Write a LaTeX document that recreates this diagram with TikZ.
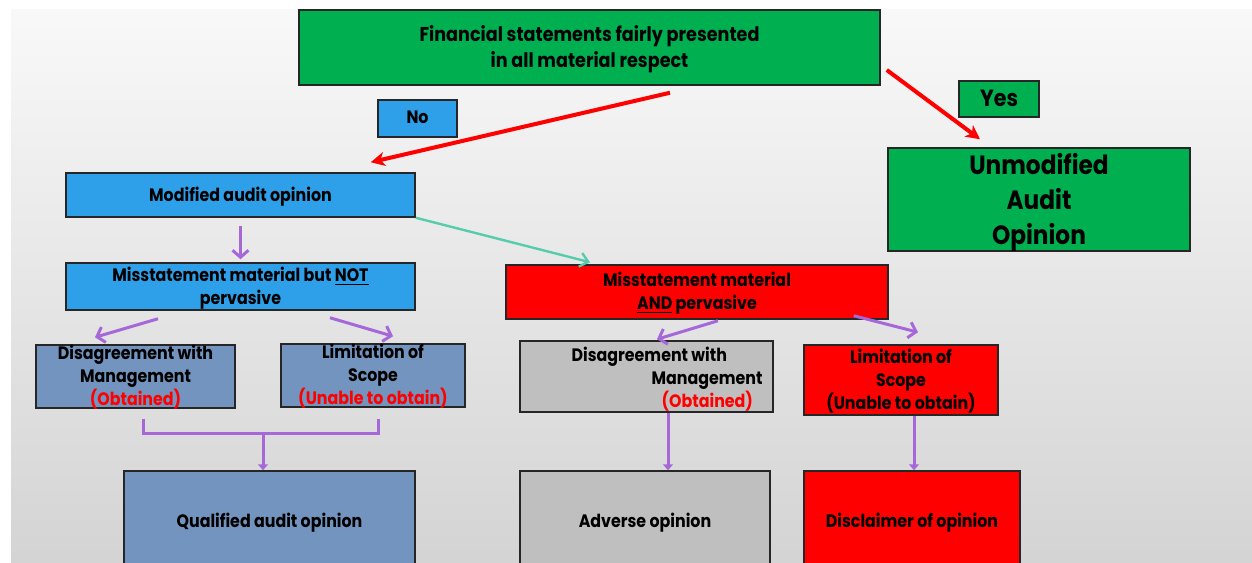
\documentclass[tikz,border=0pt]{standalone}
\usepackage{fontspec}
\setmainfont{Poppins}[FakeStretch=0.88]
\usepackage{tikz}
\usetikzlibrary{arrows.meta}
\definecolor{boxgreen}{RGB}{0,176,80}
\definecolor{boxblue}{RGB}{46,160,234}
\definecolor{boxsteel}{RGB}{114,148,190}
\definecolor{boxgray}{RGB}{191,191,191}
\definecolor{linepurple}{RGB}{166,104,216}
\definecolor{lineteal}{RGB}{86,204,172}

\begin{document}
\begin{tikzpicture}[x=0.5pt,y=-0.5pt,
  box/.style={rectangle,draw=black!85,line width=0.75pt,align=center,inner sep=0pt,text depth=0.1em,font=\bfseries\fontsize{9}{11.5}\selectfont},
  plain/.style={inner sep=0pt,align=left,font=\bfseries\fontsize{9}{11.5}\selectfont},
  redarrow/.style={draw=red,line width=2pt,-{Stealth[length=7pt,width=7pt,inset=2pt]}},
  tealarrow/.style={draw=lineteal,line width=1.2pt,-{Straight Barb[length=4pt,width=7pt]}},
  purplearrow/.style={draw=linepurple,line width=1.5pt,-{Straight Barb[length=3.5pt,width=8pt]}},
  purpledown/.style={draw=linepurple,line width=1.5pt,-{Triangle[length=3pt,width=5pt]}},
  purpleline/.style={draw=linepurple,line width=1.5pt}]
			\useasboundingbox (0,0) rectangle (1252,562);
			\clip (0,0) rectangle (1252,562);
			% slide background
			\fill[white] (0,0) rectangle (1252,562);
			\shade[top color=gray!5, bottom color=gray!34] (11,9) rectangle (1252,562);
			
			\node[box,fill=boxgreen,minimum width=290.5pt,minimum height=37.5pt,font=\bfseries\fontsize{10}{13}\selectfont] (fair) at (589.5,47.5) {Financial statements fairly presented\\in all material respect};
			\node[box,fill=boxblue,minimum width=39.5pt,minimum height=18.5pt] (no) at (417.5,118.5) {No};
			\node[box,fill=boxgreen,minimum width=40pt,minimum height=18pt,font=\bfseries\fontsize{11.7}{13}\selectfont] (yes) at (999,99) {Yes};
			\node[box,fill=boxgreen,minimum width=151pt,minimum height=51.5pt,font=\bfseries\fontsize{13.2}{17.5}\selectfont] (unmod) at (1039,199.5) {Unmodified\\Audit\\Opinion};
			\node[box,fill=boxblue,minimum width=174.5pt,minimum height=22pt] (modif) at (240.5,195) {Modified audit opinion};
			\node[box,fill=boxblue,minimum width=174.5pt,minimum height=23.5pt] (notperv) at (240.5,286.5) {Misstatement material but \underline{NOT}\\pervasive};
			\node[box,fill=red,minimum width=191pt,minimum height=27pt] (andperv) at (697,292) {Misstatement material\\\underline{AND} pervasive};
			\node[box,fill=boxsteel,minimum width=99.5pt,minimum height=31.5pt] (ldis) at (135.5,376.5) {Disagreement with\\Management\\\textcolor{red}{(Obtained)}};
			\node[box,fill=boxsteel,minimum width=92pt,minimum height=31.5pt] (llim) at (373,375.5) {Limitation of\\Scope\\\textcolor{red}{(Unable to obtain)}};
			\node[box,fill=boxgray,minimum width=126.5pt,minimum height=35.5pt] (gdis) at (646.5,376.5) {};
			\node[plain,anchor=west] (gdistext) at ([xshift=26pt,yshift=-1.5pt]gdis.west) {Disagreement with\\\hspace*{40pt}Management\\\hspace*{45pt}\textcolor{red}{(Obtained)}};
			\node[box,fill=red,minimum width=97pt,minimum height=35pt] (rlim) at (901,380) {Limitation of\\Scope\\(Unable to obtain)};
			\node[box,fill=boxsteel,minimum width=145.5pt,minimum height=50pt] (qual) at (269.5,521) {Qualified audit opinion};
			\node[box,fill=boxgray,minimum width=125pt,minimum height=50pt] (adv) at (645,521) {Adverse opinion};
			\node[box,fill=red,minimum width=108pt,minimum height=50pt] (disc) at (912,521) {Disclaimer of opinion};
			
			\draw[redarrow] ([xshift=40.25pt,yshift=-3.5pt]fair.south) -- ([xshift=-22.5pt,yshift=5pt]modif.north east);
			\draw[redarrow] ([xshift=3pt,yshift=-11.25pt]fair.east) -- ([xshift=-29.5pt,yshift=4pt]unmod.north);
			\draw[tealarrow] (modif.south east) -- ([xshift=-53.5pt,yshift=1pt]andperv.north);
			\draw[purplearrow] ([yshift=-4pt]modif.south) -- ([yshift=1.5pt]notperv.north);
			\draw[purplearrow] ([xshift=-41.25pt,yshift=-4pt]notperv.south) -- ([xshift=-20.25pt,yshift=3.5pt]ldis.north);
			\draw[purplearrow] ([xshift=44.75pt,yshift=-3.5pt]notperv.south) -- ([xshift=10pt,yshift=3.5pt]llim.north);
			\draw[purplearrow] ([xshift=10.5pt,yshift=-0.5pt]andperv.south) -- ([xshift=5.25pt,yshift=0.5pt]gdis.north);
			\draw[purplearrow] ([xshift=-17.5pt,yshift=2pt]andperv.south east) -- ([xshift=8.5pt,yshift=6pt]rlim.north);
			% bracket under the two left boxes
			\coordinate (join) at (263,433);
			\draw[purpleline] ([xshift=3.75pt,yshift=-5pt]ldis.south) |- (join) -| ([xshift=2.5pt,yshift=-5.5pt]llim.south);
			\draw[purpledown] (join) -- (join |- qual.north);
			\draw[purpledown] ([xshift=10.75pt]gdis.south) -- ([xshift=10.75pt]gdis.south |- adv.north);
			\draw[purpledown] ([xshift=6.5pt]rlim.south) -- ([xshift=6.5pt]rlim.south |- disc.north);
		\end{tikzpicture}
\end{document}
